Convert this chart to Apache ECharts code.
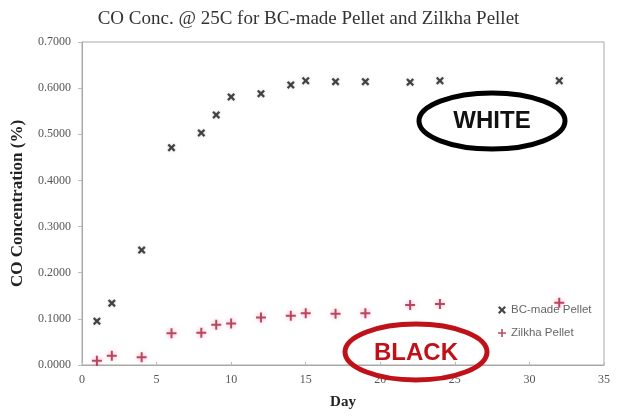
<!DOCTYPE html>
<html>
<head>
<meta charset="utf-8">
<script src="https://cdn.jsdelivr.net/npm/echarts@6/dist/echarts.min.js"></script>
<style>
  html, body { margin: 0; padding: 0; background: #fff; }
  #chart { width: 617px; height: 417px; }
</style>
</head>
<body>
<div id="chart"></div>
<script>
// Sampling days and CO concentration (%) for each pellet type
const bcDays = [1, 2, 4, 6, 8, 9, 10, 12, 14, 15, 17, 19, 22, 24, 32];
const bcValues = [0.095, 0.134, 0.249, 0.471, 0.503, 0.542, 0.581, 0.588, 0.607, 0.616, 0.614, 0.614, 0.613, 0.616, 0.616];
const zilkhaDays = [1, 2, 4, 6, 8, 9, 10, 12, 14, 15, 17, 19, 22, 24, 32];
const zilkhaValues = [0.009, 0.020, 0.017, 0.069, 0.070, 0.087, 0.090, 0.103, 0.107, 0.112, 0.111, 0.112, 0.130, 0.132, 0.135];
const seriesNames = ['BC-made Pellet', 'Zilkha Pellet'];

const serif = '"Liberation Serif", "DejaVu Serif", serif';
const sans = '"Liberation Sans", Arial, sans-serif';

const crossPath = 'path://M0,2 L2,0 L5,3 L8,0 L10,2 L7,5 L10,8 L8,10 L5,7 L2,10 L0,8 L3,5 Z';
const plusPath = 'path://M4,0 H6 V4 H10 V6 H6 V10 H4 V6 H0 V4 H4 Z';

const chart = echarts.init(document.getElementById('chart'), null, { renderer: 'canvas' });

chart.setOption({
  animation: false,
  backgroundColor: '#ffffff',
  title: {
    text: 'CO Conc. @ 25C for BC-made Pellet and Zilkha Pellet',
    left: 'center',
    top: 5,
    textStyle: { fontFamily: serif, fontSize: 19, fontWeight: 'normal', color: '#333' }
  },
  grid: {
    left: 82, right: 13, top: 42, bottom: 52,
    containLabel: false,
    outerBoundsMode: 'none',
    show: true, borderColor: '#a8a8a8', borderWidth: 1, backgroundColor: 'transparent'
  },
  legend: {
    orient: 'vertical',
    left: 493, top: 299,
    itemGap: 11,
    itemWidth: 8, itemHeight: 8,
    textStyle: { fontFamily: sans, fontSize: 11.5, color: '#666' },
    data: [
      { name: seriesNames[0], icon: crossPath },
      { name: seriesNames[1], icon: plusPath }
    ]
  },
  xAxis: {
    type: 'value',
    min: 0, max: 35, interval: 5,
    name: 'Day',
    nameLocation: 'middle',
    nameGap: 30,
    nameTextStyle: { fontFamily: serif, fontSize: 15, fontWeight: 'bold', color: '#222' },
    axisLine: { lineStyle: { color: '#a8a8a8' } },
    axisTick: { inside: true, length: 3, lineStyle: { color: '#bbb' } },
    axisLabel: { fontFamily: serif, fontSize: 12, color: '#555', margin: 9 },
    splitLine: { show: false }
  },
  yAxis: {
    type: 'value',
    min: 0, max: 0.7, interval: 0.1,
    name: 'CO Concentration (%)',
    nameLocation: 'middle',
    nameRotate: 90,
    nameGap: 56,
    nameTextStyle: { fontFamily: serif, fontSize: 17, fontWeight: 'bold', color: '#222' },
    axisLine: { show: true, lineStyle: { color: '#a8a8a8' } },
    axisTick: { show: true, length: 4, lineStyle: { color: '#bbb' } },
    axisLabel: {
      fontFamily: serif, fontSize: 12, color: '#555', margin: 11,
      formatter: v => v.toFixed(4)
    },
    splitLine: { show: false }
  },
  series: [
    {
      name: seriesNames[0],
      type: 'scatter',
      symbol: crossPath,
      symbolSize: 8,
      itemStyle: { color: '#1a1a1a', shadowColor: 'rgba(120,120,120,0.4)', shadowBlur: 3 },
      data: bcDays.map((d, i) => [d, bcValues[i]])
    },
    {
      name: seriesNames[1],
      type: 'scatter',
      symbol: plusPath,
      symbolSize: 10,
      itemStyle: { color: '#a8203f', shadowColor: 'rgba(240,90,130,0.6)', shadowBlur: 5 },
      data: zilkhaDays.map((d, i) => [d, zilkhaValues[i]])
    }
  ],
  graphic: [
    {
      type: 'ellipse',
      shape: { cx: 492, cy: 121, rx: 73, ry: 28 },
      style: { fill: 'rgba(255,255,255,0)', stroke: '#000', lineWidth: 5 },
      z: 100
    },
    {
      type: 'text',
      x: 492, y: 121,
      style: {
        text: 'WHITE', fill: '#111', font: 'bold 24px "Liberation Sans", Arial, sans-serif',
        align: 'center', verticalAlign: 'middle'
      },
      z: 101
    },
    {
      type: 'ellipse',
      shape: { cx: 416, cy: 352, rx: 71, ry: 28 },
      style: { fill: 'rgba(255,255,255,0)', stroke: '#c01018', lineWidth: 5 },
      z: 100
    },
    {
      type: 'text',
      x: 416, y: 353,
      style: {
        text: 'BLACK', fill: '#c01018', font: 'bold 24px "Liberation Sans", Arial, sans-serif',
        align: 'center', verticalAlign: 'middle'
      },
      z: 101
    }
  ]
});
</script>
</body>
</html>
